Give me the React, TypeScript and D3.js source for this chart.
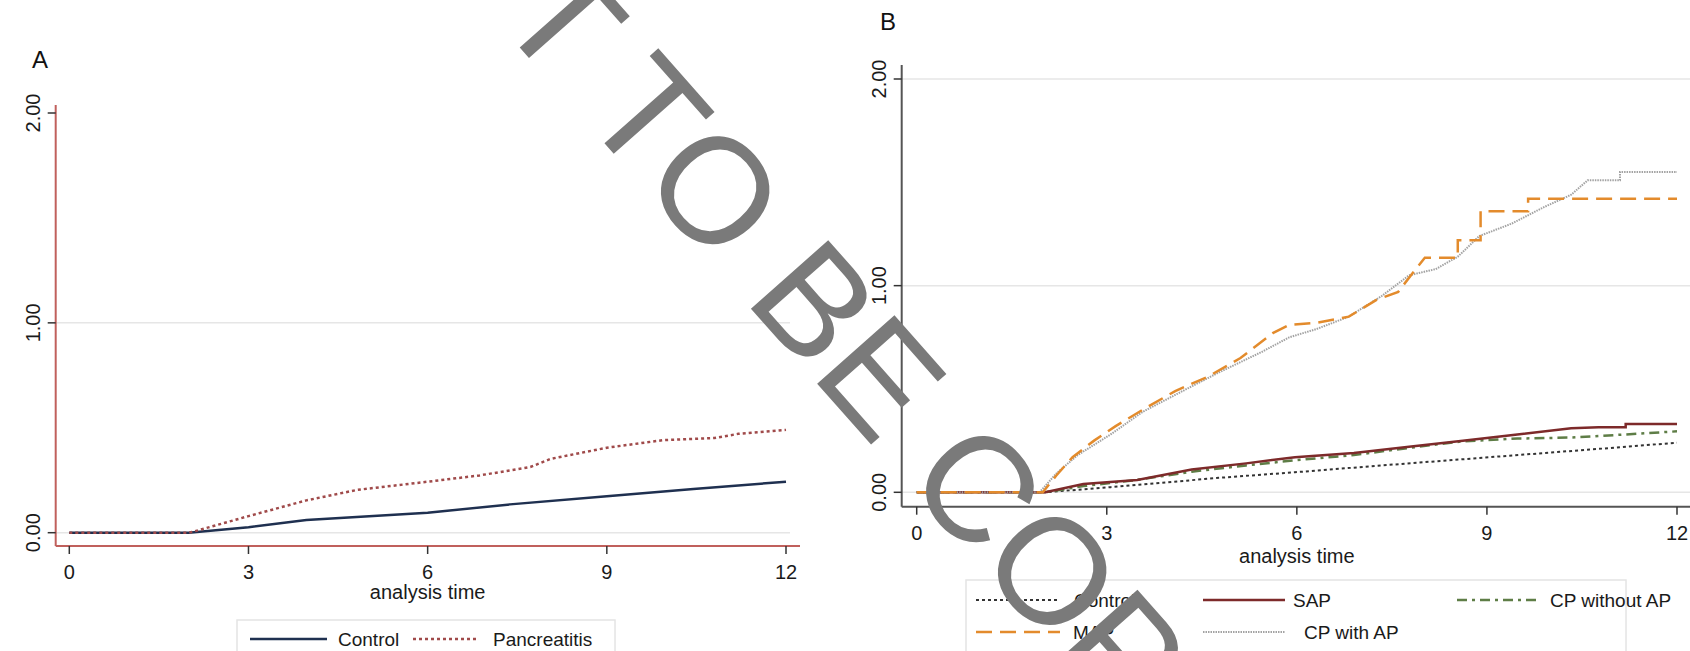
import React from 'react'
import * as d3 from 'd3'

// shared ticks
const xTicks = [0, 3, 6, 9, 12]
const yTicks = [0, 1, 2]
const yTickLabels = ['0.00', '1.00', '2.00']

// Panel A: cumulative hazard, control vs pancreatitis
const aControlTime = [0, 2.0, 3, 3.97, 6, 7.38, 9, 10.45, 12]
const aControlValue = [0, 0, 0.026, 0.061, 0.095, 0.135, 0.174, 0.208, 0.243]
const aPancTime = [0, 2.0, 2.09, 3, 3.97, 4.82, 6, 6.87, 7.72, 8.06, 9, 9.94, 10.8, 11.2, 12]
const aPancValue = [0, 0, 0.006, 0.079, 0.154, 0.204, 0.243, 0.273, 0.313, 0.352, 0.405, 0.441, 0.451, 0.471, 0.49]

// Panel B: by subgroup
const bControlTime = [0, 2.03, 3.06, 4.77, 5.97, 7.34, 9.05, 10.76, 12]
const bControlValue = [0, 0, 0.025, 0.07, 0.097, 0.13, 0.17, 0.21, 0.24]
const bSapTime = [0, 2.03, 2.63, 3.48, 4.34, 5.2, 5.97, 6.9, 7.77, 8.62, 9.48, 10.33, 10.76, 11.19, 11.19, 12]
const bSapValue = [0, 0, 0.04, 0.06, 0.11, 0.14, 0.17, 0.19, 0.22, 0.25, 0.28, 0.31, 0.315, 0.315, 0.33, 0.33]
const bCpNoApTime = [0, 2.03, 2.63, 3.48, 4.34, 5.2, 5.97, 6.9, 7.77, 8.62, 9.48, 10.33, 11.19, 12]
const bCpNoApValue = [0, 0, 0.03, 0.06, 0.1, 0.13, 0.155, 0.18, 0.215, 0.247, 0.26, 0.265, 0.28, 0.295]
const bMapTime = [0, 1.99, 2.2, 2.46, 2.8, 3.14, 3.57, 4.08, 4.6, 5.11, 5.62, 5.88, 6.31, 6.82, 7.25, 7.6, 7.85, 8.02, 8.54, 8.54, 8.9, 8.9, 9.65, 9.65, 12]
const bMapValue = [0, 0, 0.08, 0.17, 0.25, 0.32, 0.4, 0.49, 0.56, 0.65, 0.77, 0.81, 0.82, 0.85, 0.93, 0.97, 1.07, 1.135, 1.135, 1.22, 1.22, 1.36, 1.36, 1.42, 1.42]
const bCpApTime = [0, 1.94, 2.2, 2.54, 3.06, 3.57, 4.26, 4.77, 5.45, 5.88, 6.31, 6.82, 7.34, 7.77, 8.19, 8.54, 8.88, 9.39, 9.9, 10.33, 10.59, 11.1, 11.1, 12]
const bCpApValue = [0, 0, 0.09, 0.18, 0.28, 0.39, 0.5, 0.58, 0.68, 0.75, 0.79, 0.85, 0.95, 1.05, 1.08, 1.14, 1.24, 1.3, 1.38, 1.44, 1.51, 1.51, 1.55, 1.55]

const FONT = '"Liberation Sans", Arial, sans-serif'

const zip = (t, v) => t.map((d, i) => [d, v[i]])

function Panel({ layout, series, grid }) {
  const x = d3.scaleLinear().domain([0, 12]).range([layout.x0, layout.x12])
  const y = d3.scaleLinear().domain([0, 2]).range([layout.y0, layout.y2])
  const line = d3
    .line()
    .x(d => x(d[0]))
    .y(d => y(d[1]))
  return (
    <g>
      {grid.map(g => (
        <line key={g} x1={layout.axisX} x2={layout.gridRight} y1={y(g)} y2={y(g)} stroke="#e6e6e6" strokeWidth={1.5} />
      ))}
      {series.map(s => (
        <path
          key={s.name}
          d={line(zip(s.time, s.value))}
          fill="none"
          stroke={s.color}
          strokeWidth={s.width}
          strokeDasharray={s.dash}
        />
      ))}
      <line x1={layout.axisX} x2={layout.axisX} y1={layout.axisTop} y2={layout.axisBottom} stroke={layout.axisColor} strokeWidth={2} />
      <line x1={layout.axisX} x2={layout.axisRight} y1={layout.axisBottom} y2={layout.axisBottom} stroke={layout.axisColor} strokeWidth={2} />
      {yTicks.map((t, i) => (
        <g key={t}>
          <line x1={layout.axisX - 8} x2={layout.axisX} y1={y(t)} y2={y(t)} stroke="#333" strokeWidth={1.5} />
          <text
            transform={`translate(${layout.axisX - 23},${y(t)})rotate(-90)`}
            textAnchor="middle"
            dominantBaseline="central"
            fontSize={20}
            fill="#1a1a1a"
          >
            {yTickLabels[i]}
          </text>
        </g>
      ))}
      {xTicks.map(t => (
        <g key={t}>
          <line x1={x(t)} x2={x(t)} y1={layout.axisBottom} y2={layout.axisBottom + 8} stroke="#333" strokeWidth={1.5} />
          <text x={x(t)} y={layout.axisBottom + 33} textAnchor="middle" fontSize={20} fill="#1a1a1a">
            {t}
          </text>
        </g>
      ))}
      <text x={x(6)} y={layout.titleY} textAnchor="middle" fontSize={20} fill="#1a1a1a">
        analysis time
      </text>
      <text x={layout.labelX} y={layout.labelY} textAnchor="middle" fontSize={24} fill="#111">
        {layout.label}
      </text>
    </g>
  )
}

const layoutA = {
  x0: 69.3, x12: 786, y0: 532.7, y2: 113,
  axisX: 55.7, axisTop: 105, axisBottom: 546, axisRight: 800, gridRight: 790,
  axisColor: '#c0605c', titleY: 599, label: 'A', labelX: 40, labelY: 68
}
const layoutB = {
  x0: 916.7, x12: 1677, y0: 492.3, y2: 79,
  axisX: 901.7, axisTop: 65, axisBottom: 506.7, axisRight: 1690, gridRight: 1690,
  axisColor: '#555', titleY: 563, label: 'B', labelX: 888, labelY: 30
}

const seriesA = [
  { name: 'Control', time: aControlTime, value: aControlValue, color: '#1f3050', width: 2.5 },
  { name: 'Pancreatitis', time: aPancTime, value: aPancValue, color: '#a04a4a', width: 2.5, dash: '3 3' }
]
const seriesB = [
  { name: 'Control', time: bControlTime, value: bControlValue, color: '#333', width: 2, dash: '3 3' },
  { name: 'CP without AP', time: bCpNoApTime, value: bCpNoApValue, color: '#5e7d46', width: 2.5, dash: '10 5 3 5' },
  { name: 'SAP', time: bSapTime, value: bSapValue, color: '#7d2a2a', width: 2.5 },
  { name: 'CP with AP', time: bCpApTime, value: bCpApValue, color: '#a3a3a3', width: 2, dash: '1.5 1' },
  { name: 'MAP', time: bMapTime, value: bMapValue, color: '#e38b2c', width: 2.5, dash: '16 8' }
]

function LegendItem({ x1, x2, y, tx, s, label }) {
  return (
    <g>
      <line x1={x1} x2={x2} y1={y} y2={y} stroke={s.color} strokeWidth={s.width} strokeDasharray={s.dash} />
      <text x={tx} y={y + 7} fontSize={19} fill="#1a1a1a">
        {label}
      </text>
    </g>
  )
}

export default function App() {
  const sb = name => seriesB.find(s => s.name === name)
  return (
    <svg
      width={1690}
      height={651}
      style={{ position: 'absolute', left: 0, top: 0, background: '#fff', fontFamily: FONT }}
    >
      <rect width={1690} height={651} fill="#fff" />
      <Panel layout={layoutA} series={seriesA} grid={[0, 1]} />
      <Panel layout={layoutB} series={seriesB} grid={[0, 1, 2]} />

      <rect x={237} y={620} width={378} height={44} fill="none" stroke="#e4e4e4" strokeWidth={1.5} />
      <LegendItem x1={250} x2={327} y={639} tx={338} s={seriesA[0]} label="Control" />
      <LegendItem x1={413} x2={478} y={639} tx={493} s={seriesA[1]} label="Pancreatitis" />

      <rect x={966} y={580} width={660} height={80} fill="none" stroke="#e4e4e4" strokeWidth={1.5} />
      <LegendItem x1={976} x2={1060} y={600} tx={1074} s={sb('Control')} label="Control" />
      <LegendItem x1={1203} x2={1285} y={600} tx={1293} s={sb('SAP')} label="SAP" />
      <LegendItem x1={1457} x2={1538} y={600} tx={1550} s={sb('CP without AP')} label="CP without AP" />
      <LegendItem x1={976} x2={1060} y={632} tx={1073} s={sb('MAP')} label="MAP" />
      <LegendItem x1={1203} x2={1285} y={632} tx={1304} s={sb('CP with AP')} label="CP with AP" />

      <text
        transform="translate(345,-150)rotate(48.5)"
        fontSize={150}
        fill="#7a7a7a"
        fontFamily={FONT}
      >
        NOT TO BE COPIED
      </text>
    </svg>
  )
}
